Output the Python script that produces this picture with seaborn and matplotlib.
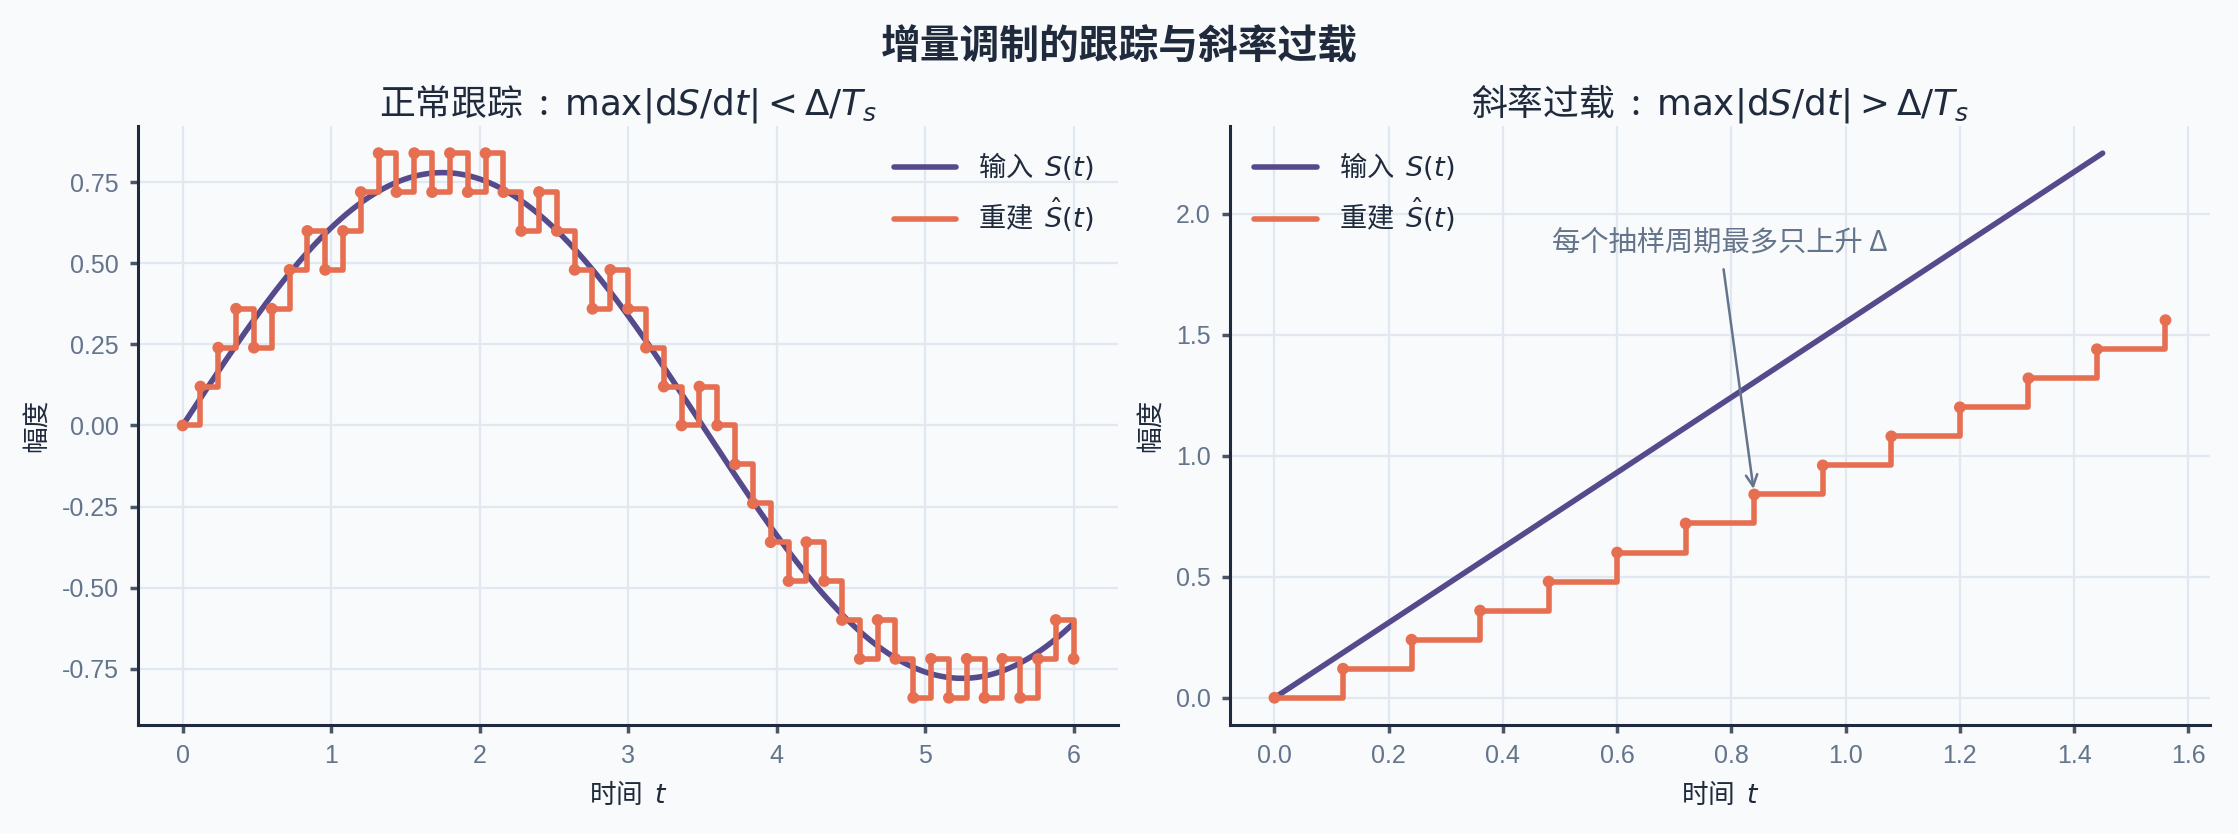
import numpy as np
import matplotlib
matplotlib.use("Agg")
import matplotlib.pyplot as plt
import seaborn as sns

# ---- data ----
TS = 0.12       # sampling period
DELTA = 0.12    # step size

# left panel: sine input (amplitude / period)
sine_amp = 0.78
sine_period = 7.0
left_t_end = 6.0

# reconstructed staircase, one value per sample n*TS (n = 0..50)
recon_left = [0.00, 0.12, 0.24, 0.36, 0.24, 0.36, 0.48, 0.60, 0.48, 0.60,
              0.72, 0.84, 0.72, 0.84, 0.72, 0.84, 0.72, 0.84, 0.72, 0.60,
              0.72, 0.60, 0.48, 0.36, 0.48, 0.36, 0.24, 0.12, 0.00, 0.12,
              0.00, -0.12, -0.24, -0.36, -0.48, -0.36, -0.48, -0.60, -0.72, -0.60,
              -0.72, -0.84, -0.72, -0.84, -0.72, -0.84, -0.72, -0.84, -0.72, -0.60,
              -0.72]

# right panel: steep ramp input and the staircase that can't keep up
ramp_t = [0.0, 1.45]
ramp_s = [0.0, 2.25]
recon_right = [0.00, 0.12, 0.24, 0.36, 0.48, 0.60, 0.72, 0.84,
               0.96, 1.08, 1.20, 1.32, 1.44, 1.56]

note_text = "每个抽样周期最多只上升 Δ"
note_xy = (0.84, 0.84)
note_xytext = (0.78, 1.88)

# ---- style ----
BG = "#f8fafc"
PURPLE = "#574a8c"
ORANGE = "#e76f51"
DARK = "#1f2a3c"
GRAY = "#64748b"

sns.set_theme(style="whitegrid")
plt.rcParams.update({
    "figure.facecolor": BG,
    "axes.facecolor": BG,
    "axes.edgecolor": DARK,
    "axes.linewidth": 1.1,
    "grid.color": "#e2e8f0",
    "grid.linewidth": 0.8,
    "xtick.color": "#4a5568",
    "ytick.color": "#4a5568",
    "xtick.labelcolor": GRAY,
    "ytick.labelcolor": GRAY,
    "xtick.bottom": True,
    "ytick.left": True,
    "xtick.major.size": 3,
    "ytick.major.size": 3,
    "xtick.labelsize": 9,
    "ytick.labelsize": 9,
    "text.color": DARK,
    "axes.labelcolor": DARK,
})
plt.rcParams["font.family"] = ["Noto Sans CJK SC", "DejaVu Sans"]
plt.rcParams["axes.unicode_minus"] = False

fig, axes = plt.subplots(1, 2, figsize=(11.19, 4.17), dpi=200)
fig.subplots_adjust(left=0.0617, right=0.9875, top=0.849, bottom=0.1307, wspace=0.114)

# left: normal tracking
ax = axes[0]
t_left = np.arange(len(recon_left)) * TS
t_fine = np.linspace(0, left_t_end, 600)
s_fine = sine_amp * np.sin(2 * np.pi * t_fine / sine_period)
sns.lineplot(x=t_fine, y=s_fine, ax=ax, color=PURPLE, lw=2.0, label=r"输入  $S(t)$")
sns.lineplot(x=t_left, y=recon_left, ax=ax, color=ORANGE, lw=2.0,
             drawstyle="steps-post", label=r"重建  $\hat{S}(t)$")
sns.scatterplot(x=t_left, y=recon_left, ax=ax, color=ORANGE, s=18,
                edgecolor="none", legend=False, zorder=3)
ax.set_title(r"正常跟踪  :  $\max|\mathrm{d}S/\mathrm{d}t| < \Delta/T_s$", fontsize=12.9, pad=4)
ax.legend(loc="upper right", frameon=False, fontsize=9.8, handlelength=2.3)

# right: slope overload
ax = axes[1]
t_right = np.arange(len(recon_right)) * TS
sns.lineplot(x=ramp_t, y=ramp_s, ax=ax, color=PURPLE, lw=2.0, label=r"输入  $S(t)$")
sns.lineplot(x=t_right, y=recon_right, ax=ax, color=ORANGE, lw=2.0,
             drawstyle="steps-post", label=r"重建  $\hat{S}(t)$")
sns.scatterplot(x=t_right, y=recon_right, ax=ax, color=ORANGE, s=18,
                edgecolor="none", legend=False, zorder=3)
ax.annotate(note_text, xy=note_xy, xytext=note_xytext, ha="center", va="center",
            fontsize=10.2, color=GRAY,
            arrowprops=dict(arrowstyle="->", color=GRAY, lw=0.9))
ax.set_title(r"斜率过载  :  $\max|\mathrm{d}S/\mathrm{d}t| > \Delta/T_s$", fontsize=12.9, pad=4)
ax.legend(loc="upper left", frameon=False, fontsize=9.8, handlelength=2.3)

for ax in axes:
    ax.set_xlabel(r"时间  $t$", fontsize=9.6)
    ax.set_ylabel("幅度", fontsize=9.6)
    ax.tick_params(pad=4, labelfontfamily="Liberation Sans")
    sns.despine(ax=ax)

fig.suptitle("增量调制的跟踪与斜率过载", fontsize=14.3, fontweight="bold",
             y=0.944, va="center", color=DARK)
fig.savefig("out.png", dpi=200, facecolor=BG)
